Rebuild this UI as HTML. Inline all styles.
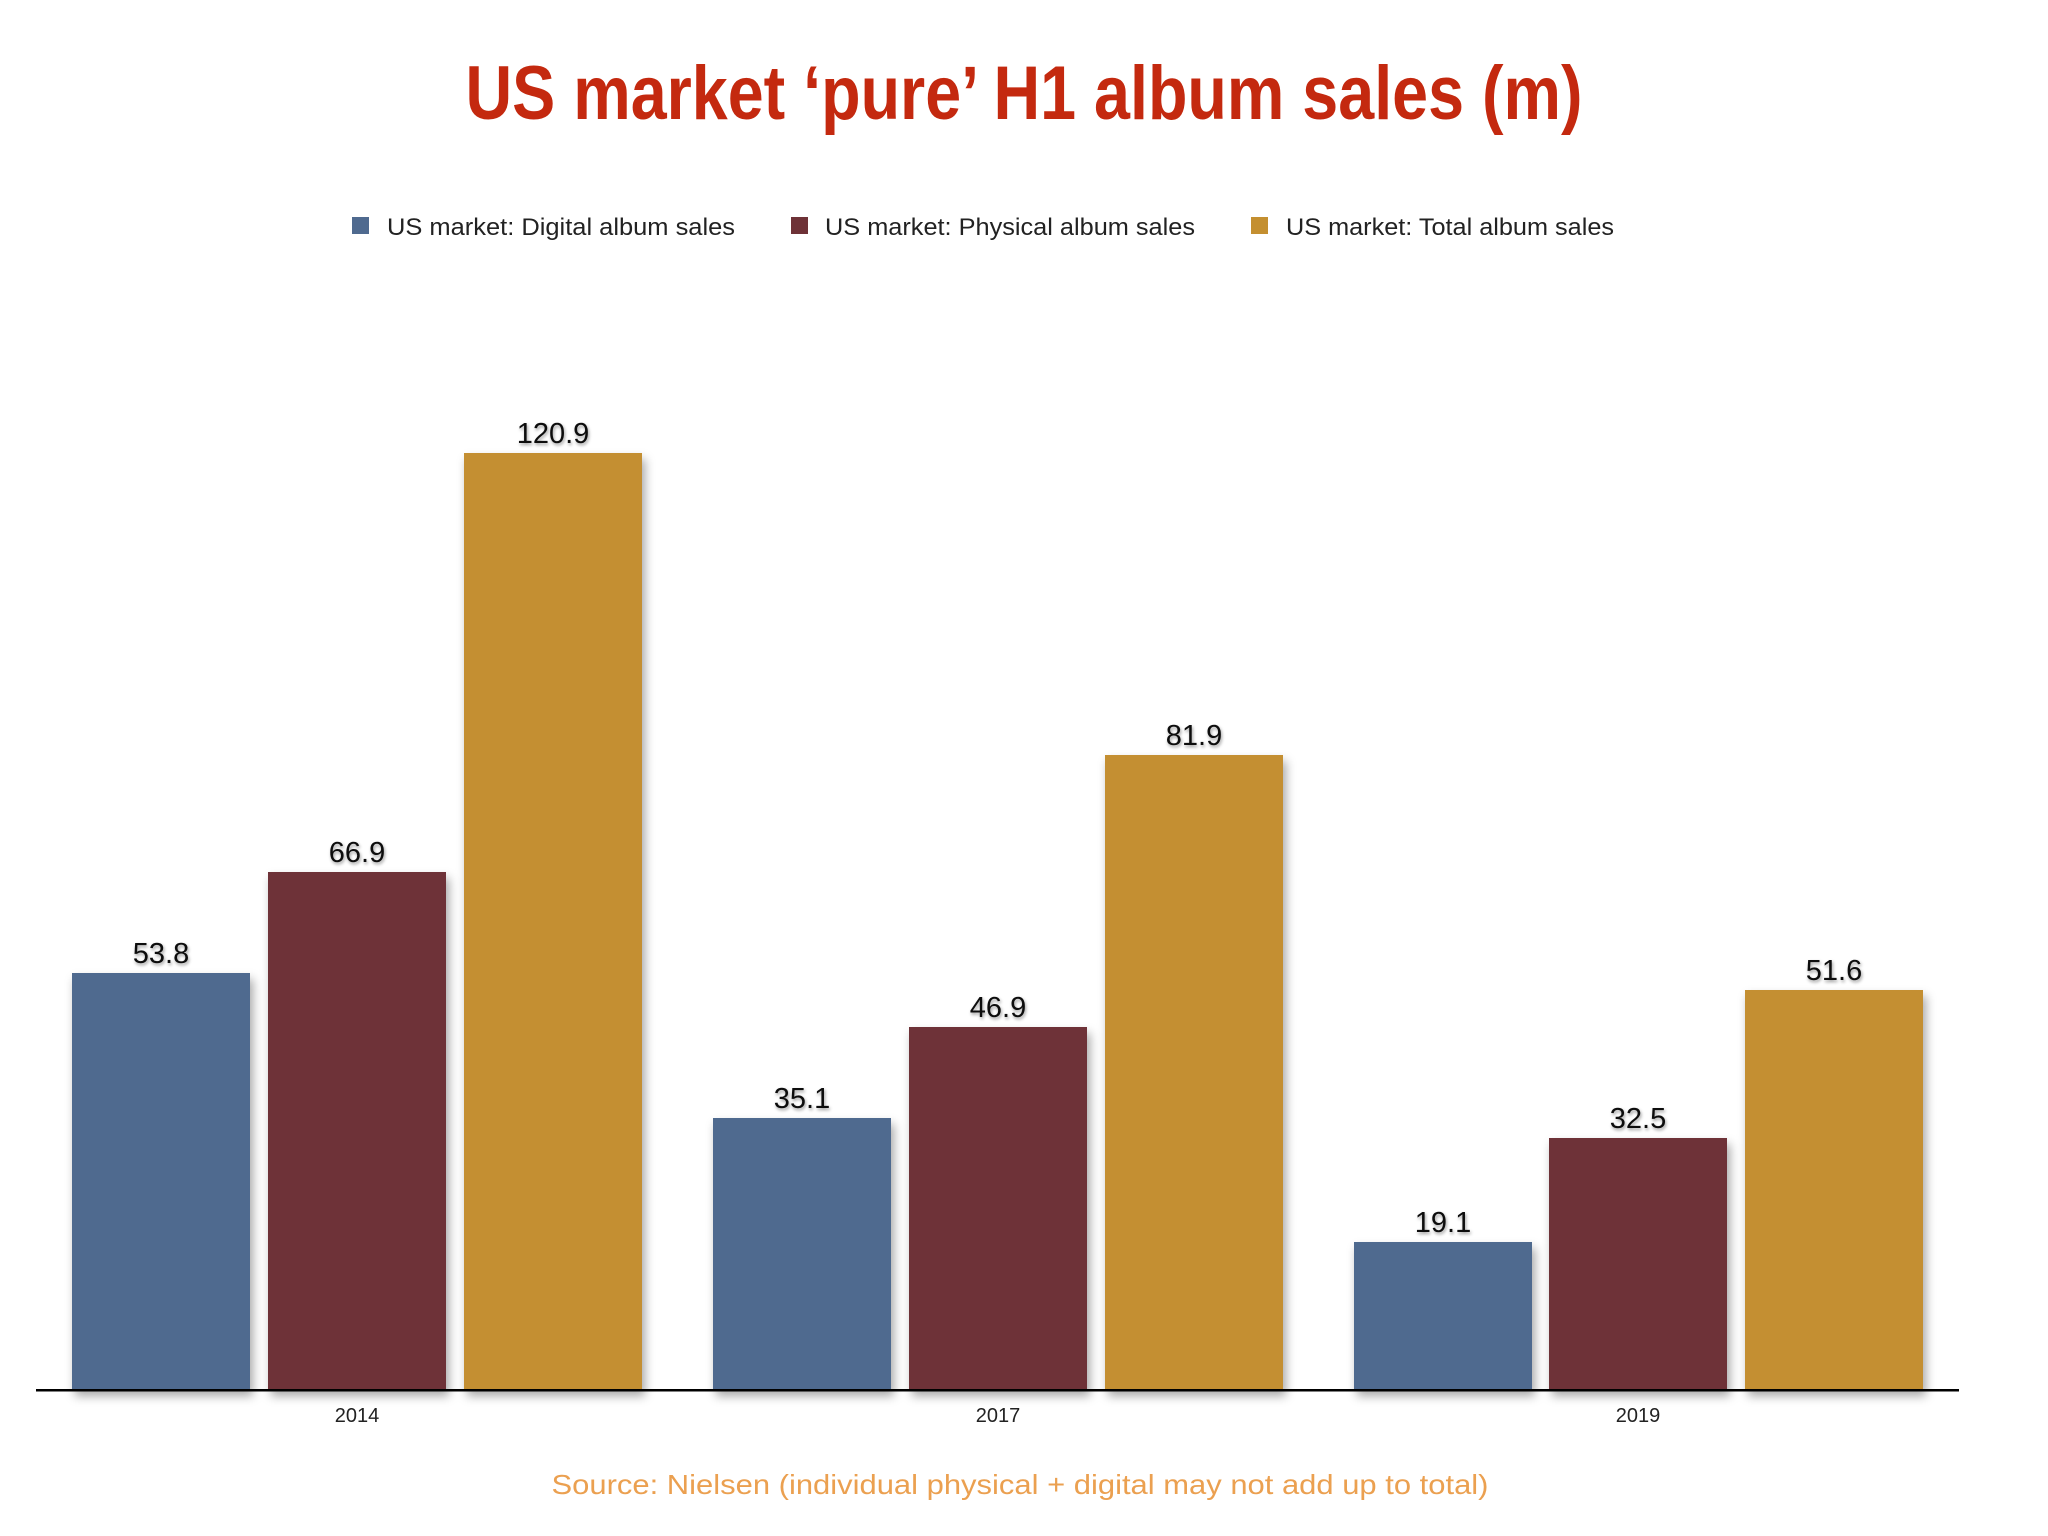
<!DOCTYPE html>
<html><head><meta charset="utf-8"><style>
html,body{margin:0;padding:0;background:#fff;}
svg{display:block;}
text{font-family:"Liberation Sans",sans-serif;}
</style></head><body>
<svg width="2048" height="1536" viewBox="0 0 2048 1536" xmlns="http://www.w3.org/2000/svg">
<defs>
<filter id="sh" x="-10%" y="-10%" width="130%" height="130%">
<feDropShadow dx="3" dy="6" stdDeviation="5" flood-color="#000" flood-opacity="0.35"/>
</filter>
<filter id="tsh"><feDropShadow dx="1" dy="2" stdDeviation="1.5" flood-color="#000" flood-opacity="0.4"/></filter>
</defs>
<rect width="2048" height="1536" fill="#fff"/>
<text x="1024" y="119" text-anchor="middle" font-size="76" font-weight="bold" fill="#c4290f" textLength="1117" lengthAdjust="spacingAndGlyphs">US market ‘pure’ H1 album sales (m)</text>

<rect x="352" y="217" width="17" height="17" fill="#4f6a8f"/>
<text x="387" y="235" font-size="24" fill="#222" textLength="348" lengthAdjust="spacingAndGlyphs">US market: Digital album sales</text>
<rect x="791" y="217" width="17" height="17" fill="#6e3237"/>
<text x="825" y="235" font-size="24" fill="#222" textLength="370" lengthAdjust="spacingAndGlyphs">US market: Physical album sales</text>
<rect x="1251" y="217" width="17" height="17" fill="#c48f30"/>
<text x="1286" y="235" font-size="24" fill="#222" textLength="328" lengthAdjust="spacingAndGlyphs">US market: Total album sales</text>

<g filter="url(#sh)">
<rect x="72" y="973" width="178" height="417" fill="#4f6a8f"/>
<rect x="268" y="872" width="178" height="518" fill="#6e3237"/>
<rect x="464" y="453" width="178" height="937" fill="#c48f30"/>
<rect x="713" y="1118" width="178" height="272" fill="#4f6a8f"/>
<rect x="909" y="1027" width="178" height="363" fill="#6e3237"/>
<rect x="1105" y="755" width="178" height="635" fill="#c48f30"/>
<rect x="1354" y="1242" width="178" height="148" fill="#4f6a8f"/>
<rect x="1549" y="1138" width="178" height="252" fill="#6e3237"/>
<rect x="1745" y="990" width="178" height="400" fill="#c48f30"/>
</g>
<rect x="36" y="1389" width="1923" height="2.5" fill="#000"/>

<g font-size="29" fill="#111" text-anchor="middle" filter="url(#tsh)">
<text x="161" y="963">53.8</text>
<text x="357" y="862">66.9</text>
<text x="553" y="443">120.9</text>
<text x="802" y="1108">35.1</text>
<text x="998" y="1017">46.9</text>
<text x="1194" y="745">81.9</text>
<text x="1443" y="1232">19.1</text>
<text x="1638" y="1128">32.5</text>
<text x="1834" y="980">51.6</text>
</g>

<g font-size="20" fill="#222" text-anchor="middle">
<text x="357" y="1422">2014</text>
<text x="998" y="1422">2017</text>
<text x="1638" y="1422">2019</text>
</g>
<text x="1020" y="1494" text-anchor="middle" font-size="28" fill="#eba050" textLength="937" lengthAdjust="spacingAndGlyphs">Source: Nielsen (individual physical + digital may not add up to total)</text>
</svg>
</body></html>
